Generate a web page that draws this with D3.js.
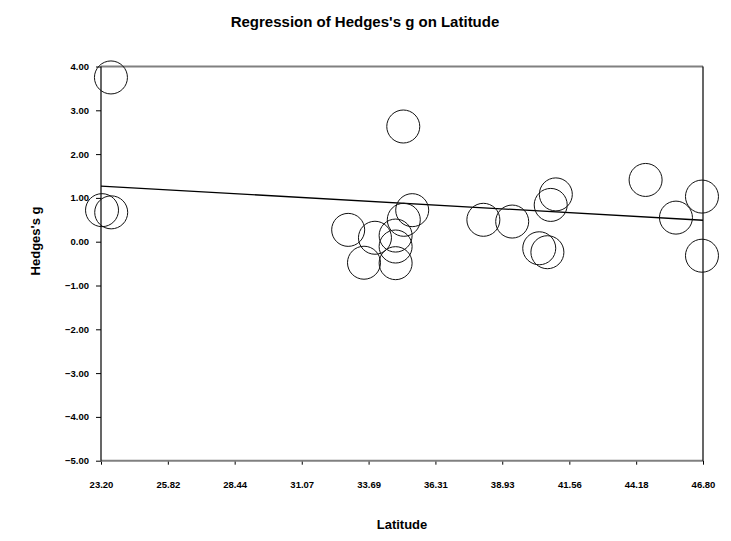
<!DOCTYPE html>
<html>
<head>
<meta charset="utf-8">
<script src="https://cdn.jsdelivr.net/npm/d3@7"></script>
<style>
  html, body { margin: 0; padding: 0; background: #fff; }
  svg { display: block; }
  text { font-family: "Liberation Sans", Arial, sans-serif; font-weight: bold; fill: #000; }
</style>
</head>
<body>
<svg id="chart" width="731" height="541"></svg>
<script>
// Study latitude and effect size (Hedges's g)
const latitude = [23.59, 23.24, 23.60, 35.05, 32.89, 33.94, 33.51, 34.75, 34.75, 34.75, 35.07,
                  35.40, 38.19, 39.32, 41.03, 40.83, 40.38, 40.70, 44.55, 45.74, 46.76, 46.76];
const hedgesG = [3.75, 0.72, 0.67, 2.63, 0.27, 0.09, -0.48, -0.49, -0.11, 0.14, 0.50,
                 0.72, 0.50, 0.46, 1.08, 0.84, -0.15, -0.24, 1.41, 0.55, 1.03, -0.32];

// Fitted regression line, evaluated at the ends of the latitude range
const fitLatitude = [23.20, 46.80];
const fitG = [1.27, 0.49];

const xTicks = [23.20, 25.82, 28.44, 31.07, 33.69, 36.31, 38.93, 41.56, 44.18, 46.80];
const yTicks = [-5, -4, -3, -2, -1, 0, 1, 2, 3, 4];

const svg = d3.select("#chart");
const plot = { left: 101, right: 703, top: 66.5, bottom: 460.7 };

const x = d3.scaleLinear().domain([23.2, 46.8]).range([plot.left, plot.right]);
const y = d3.scaleLinear().domain([-5, 4]).range([plot.bottom, plot.top]);

// Title
svg.append("text")
  .attr("x", 365).attr("y", 26.5)
  .attr("text-anchor", "middle")
  .style("font-size", "15px")
  .text("Regression of Hedges's g on Latitude");

// Axes
const fmt = d3.format(".2f");
const yAxis = svg.append("g")
  .attr("transform", `translate(${plot.left},0)`)
  .call(d3.axisLeft(y).tickValues(yTicks).tickFormat(fmt).tickSize(5).tickSizeOuter(0).tickPadding(7));
const xAxis = svg.append("g")
  .attr("transform", `translate(0,${plot.bottom})`)
  .call(d3.axisBottom(x).tickValues(xTicks).tickFormat(fmt).tickSize(4).tickSizeOuter(0).tickPadding(17));
[yAxis, xAxis].forEach(g => {
  g.select(".domain").remove();
  g.selectAll(".tick line").attr("stroke", "#000").attr("stroke-width", 1);
  g.selectAll(".tick text")
    .style("font-family", "'Liberation Sans', Arial, sans-serif")
    .style("font-weight", "bold")
    .style("font-size", "9.5px")
    .attr("fill", "#000");
});

// Plot frame
svg.append("line").attr("x1", plot.left).attr("x2", plot.right).attr("y1", plot.top).attr("y2", plot.top)
  .attr("stroke", "#808080").attr("stroke-width", 2);
svg.append("line").attr("x1", plot.left).attr("x2", plot.right).attr("y1", plot.bottom).attr("y2", plot.bottom)
  .attr("stroke", "#808080").attr("stroke-width", 2);
svg.append("line").attr("x1", plot.left).attr("x2", plot.left).attr("y1", plot.top).attr("y2", plot.bottom)
  .attr("stroke", "#000").attr("stroke-width", 1.2);
svg.append("line").attr("x1", plot.right).attr("x2", plot.right).attr("y1", plot.top).attr("y2", plot.bottom)
  .attr("stroke", "#000").attr("stroke-width", 1.2);

// Regression line
svg.append("path")
  .datum(fitLatitude.map((v, i) => [v, fitG[i]]))
  .attr("fill", "none")
  .attr("stroke", "#000")
  .attr("stroke-width", 1.3)
  .attr("d", d3.line().x(d => x(d[0])).y(d => y(d[1])));

// Study points
svg.append("g").selectAll("circle")
  .data(latitude.map((v, i) => [v, hedgesG[i]]))
  .join("circle")
  .attr("cx", d => x(d[0]))
  .attr("cy", d => y(d[1]))
  .attr("r", 16.5)
  .attr("fill", "none")
  .attr("stroke", "#111")
  .attr("stroke-width", 1);

// Axis titles
svg.append("text")
  .attr("x", 402).attr("y", 529)
  .attr("text-anchor", "middle")
  .style("font-size", "13px")
  .text("Latitude");
svg.append("text")
  .attr("transform", "translate(39.5,241) rotate(-90)")
  .attr("text-anchor", "middle")
  .style("font-size", "13px")
  .text("Hedges's g");
</script>
</body>
</html>
